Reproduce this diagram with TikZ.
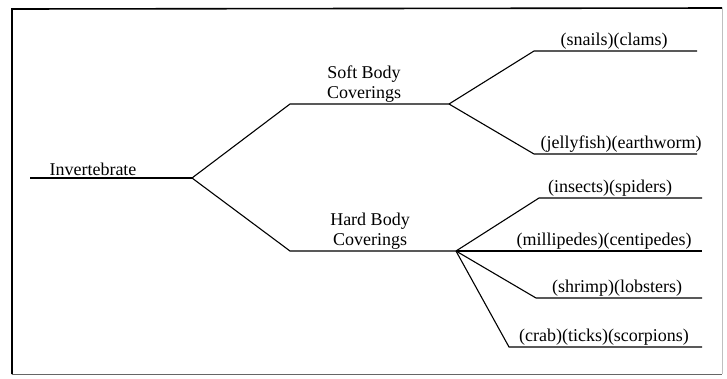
\documentclass[tikz,border=0pt]{standalone}
\usepackage{fontspec}
\setmainfont{Liberation Serif}
\begin{document}
\begin{tikzpicture}[x=1pt,y=-1pt,line width=1.1pt,
  lbl/.style={anchor=south,inner sep=1.5pt,font=\fontsize{18}{20}\selectfont},
  grp/.style={lbl,align=center}]
\useasboundingbox (0,0) rectangle (727,378);
\draw[line width=1.6pt](12,374)--(12,9)--(722,8);
\draw[black!25,line width=0.6pt](722,8)--(722,374);
\draw[black!60,line width=1pt](12,374)--(722,374);
\coordinate (root) at (30,178);
\coordinate (split) at (192,178);
\coordinate (softA) at (290,104);
\coordinate (softB) at (449,104);
\coordinate (hardA) at (290,251);
\coordinate (hardB) at (456,251);
\coordinate (snailA) at (534,51);
\coordinate (snailB) at (697,51);
\coordinate (jellyA) at (534,154);
\coordinate (jellyB) at (697,154);
\coordinate (insectA) at (539,198);
\coordinate (insectB) at (702,198);
\coordinate (milliB) at (702,251);
\coordinate (shrimpA) at (536,298);
\coordinate (shrimpB) at (702,298);
\coordinate (crabA) at (509,347);
\coordinate (crabB) at (702,347);
\draw(root)--(split);
\draw(split)--(softA)--(softB);
\draw(split)--(hardA)--(hardB);
\draw(softB)--(snailA)--(snailB);
\draw(softB)--(jellyA)--(jellyB);
\draw(hardB)--(insectA)--(insectB);
\draw(hardB)--(milliB);
\draw(hardB)--(shrimpA)--(shrimpB);
\draw(hardB)--(crabA)--(crabB);
\node[lbl](invert) at (93,178){Invertebrate};
\node[grp](soft) at (364,104){Soft Body\\Coverings};
\node[grp](hard) at (370,251){Hard Body\\Coverings};
\node[lbl](snail) at (614,51){(snails)(clams)};
\node[lbl](jelly) at (621,154){(jellyfish)(earthworm)};
\node[lbl](insect) at (610,198){(insects)(spiders)};
\node[lbl](milli) at (604,251){(millipedes)(centipedes)};
\node[lbl](shrimp) at (617,298){(shrimp)(lobsters)};
\node[lbl](crab) at (604,347){(crab)(ticks)(scorpions)};
\end{tikzpicture}
\end{document}
